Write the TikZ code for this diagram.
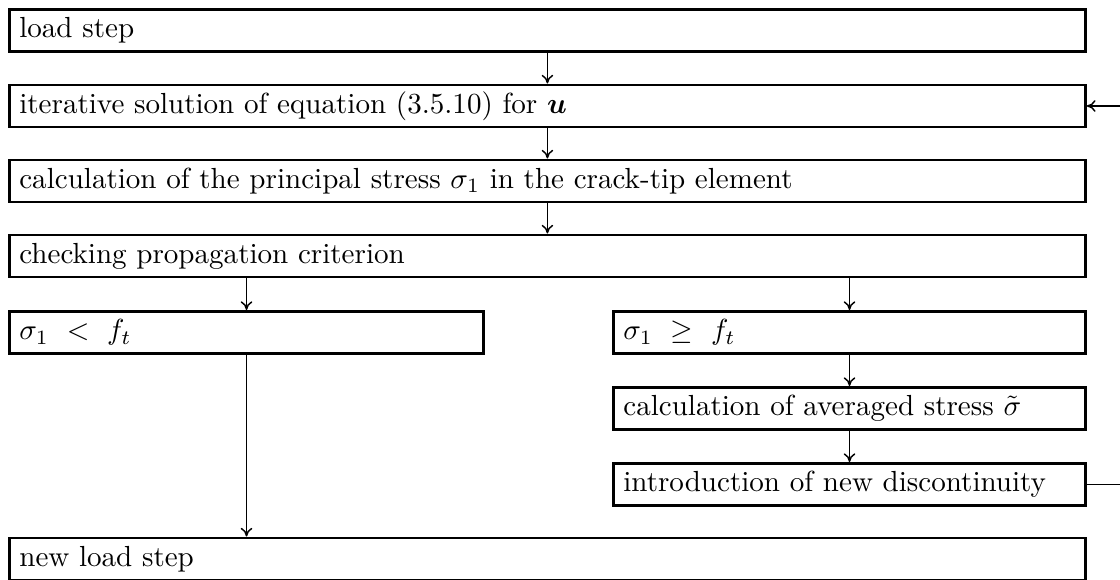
\documentclass[tikz,border=0pt]{standalone}
\usepackage{amsmath,bm}
\usetikzlibrary{arrows.meta}
\begin{document}
\begin{tikzpicture}[x=0.344pt,y=-0.344pt,
  box/.style={draw, line width=1pt, anchor=north west, inner xsep=3.4pt,
    inner ysep=0pt, minimum height=14.45pt, align=left},
  wide/.style={box, text width=363.3pt},
  leftbox/.style={box, text width=156.3pt},
  rightbox/.style={box, text width=155.6pt},
  flow/.style={-{To[length=3pt,width=4pt]}, line width=0.5pt}]
\clip (0,0) rectangle (1120,579);
% main column
\node[wide] (load)  at (8,8)     {load step};
\node[wide] (iter)  at (8,83.5)  {iterative solution of equation (3.5.10) for $\bm{u}$};
\node[wide] (calc)  at (8,158.5) {calculation of the principal stress $\sigma_1$ in the crack-tip element};
\node[wide] (check) at (8,233.5) {checking propagation criterion};
% branches
\node[leftbox]  (lt)    at (8,310)   {$\sigma_1\ <\ f_t$};
\node[rightbox] (ge)    at (612,310) {$\sigma_1\ \geq\ f_t$};
\node[rightbox] (avg)   at (612,386) {calculation of averaged stress $\tilde{\sigma}$};
\node[rightbox] (intro) at (612,462) {introduction of new discontinuity};
\node[wide] (new)   at (8,536.5) {new load step};
% connectors
\coordinate (loopx) at (1160,0);
\draw[flow] (load) -- (iter);
\draw[flow] (iter) -- (calc);
\draw[flow] (calc) -- (check);
\draw[flow] (check.south -| lt.north) -- (lt.north);
\draw[flow] (check.south -| ge.north) -- (ge.north);
\draw[flow] (ge) -- (avg);
\draw[flow] (avg) -- (intro);
\draw[flow] (lt.south) -- (lt.south |- new.north);
\draw[flow] (intro.east) -- (intro.east -| loopx) -- (iter.east -| loopx) -- (iter.east);
\end{tikzpicture}
\end{document}
